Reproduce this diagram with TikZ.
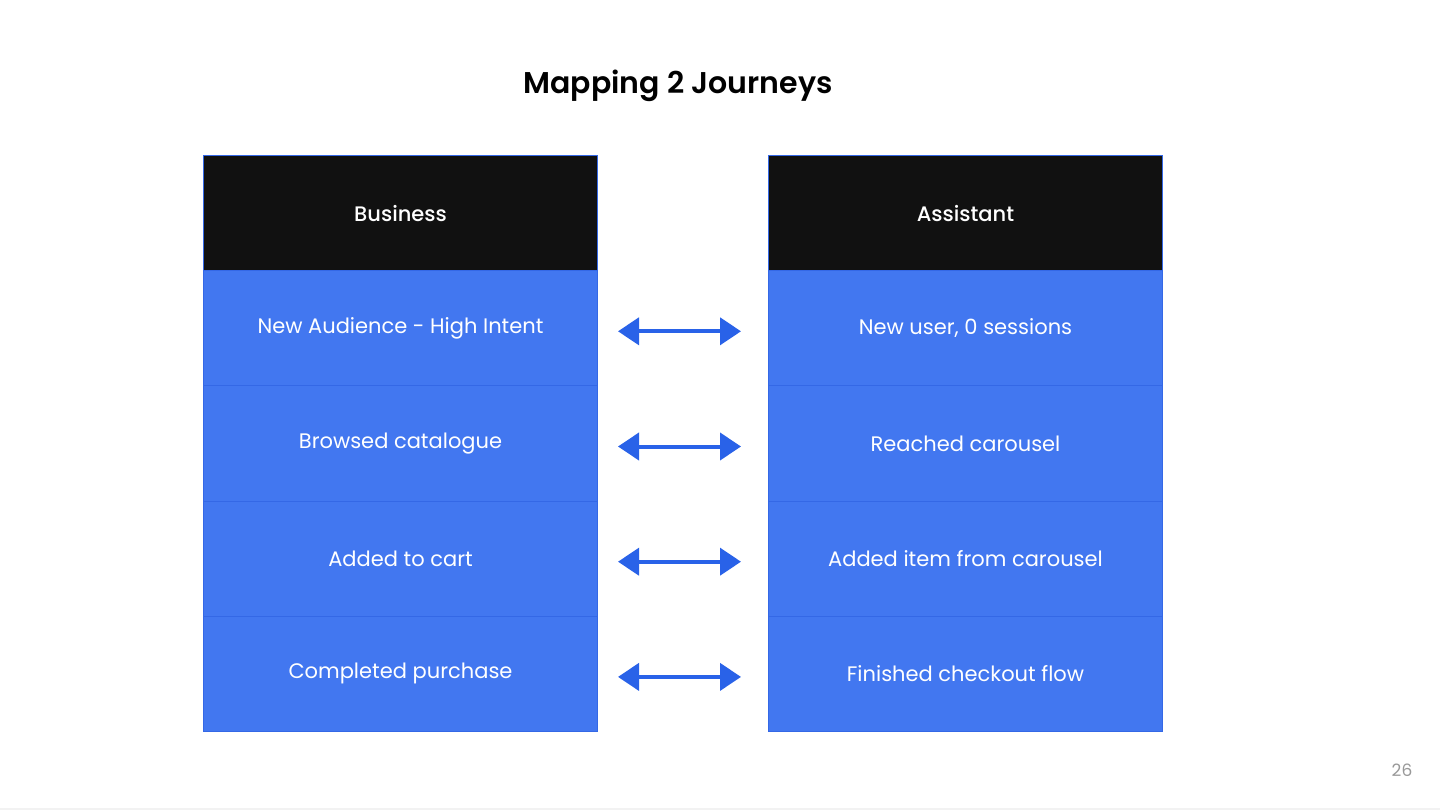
\documentclass[tikz,border=0pt]{standalone}
\usepackage{fontspec}
\setmainfont{Poppins}
\newfontfamily\titlefont{Poppins SemiBold}
\newfontfamily\headfont{Poppins Medium}
\usetikzlibrary{arrows.meta}
\definecolor{cellblue}{HTML}{4277F0}
\definecolor{edgeblue}{HTML}{3468E6}
\definecolor{arrowblue}{HTML}{2962E8}
\definecolor{headblack}{HTML}{111111}
\tikzset{
  cell/.style={draw=edgeblue, line width=1pt, fill=cellblue, minimum width=394pt, minimum height=115.2pt, inner sep=0pt, text=white, font=\fontsize{21}{25}\selectfont, anchor=north west},
  headcell/.style={cell, fill=headblack, font=\fontsize{21}{25}\headfont},
  dblarrow/.style={draw=arrowblue, line width=4pt, {Triangle[length=21pt,width=27pt]}-{Triangle[length=21pt,width=27pt]}},
}
\begin{document}
\begin{tikzpicture}[x=1pt,y=-1pt]
\useasboundingbox (0,0) rectangle (1440,810);
\fill[white] (0,0) rectangle (1440,810);
\fill[black!5] (0,807.5) rectangle (1440,810);
\node[font=\fontsize{30}{36}\titlefont, text=black] (title) at (678,86) {Mapping 2 Journeys};
% left column
\node[headcell] (bh) at (203,155) {Business};
\node[cell] (b1) at (203,270.2) {New Audience - High Intent};
\node[cell] (b2) at (203,385.4) {Browsed catalogue};
\node[cell] (b3) at (203,500.6) {Added to cart};
\node[cell] (b4) at (203,615.8) {Completed purchase};
% right column
\node[headcell] (ah) at (768,155) {Assistant};
\node[cell] (a1) at (768,270.2) {New user, 0 sessions};
\node[cell] (a2) at (768,385.4) {Reached carousel};
\node[cell] (a3) at (768,500.6) {Added item from carousel};
\node[cell] (a4) at (768,615.8) {Finished checkout flow};
% arrows
\foreach \i in {1,2,3,4} {
  \draw[dblarrow] ([xshift=20pt,yshift=-3pt]b\i.east) -- ([xshift=-27pt,yshift=-3pt]a\i.west);
}
\node[text=black!40, font=\fontsize{17}{20}\selectfont] (page) at (1402,770) {26};
\end{tikzpicture}
\end{document}
